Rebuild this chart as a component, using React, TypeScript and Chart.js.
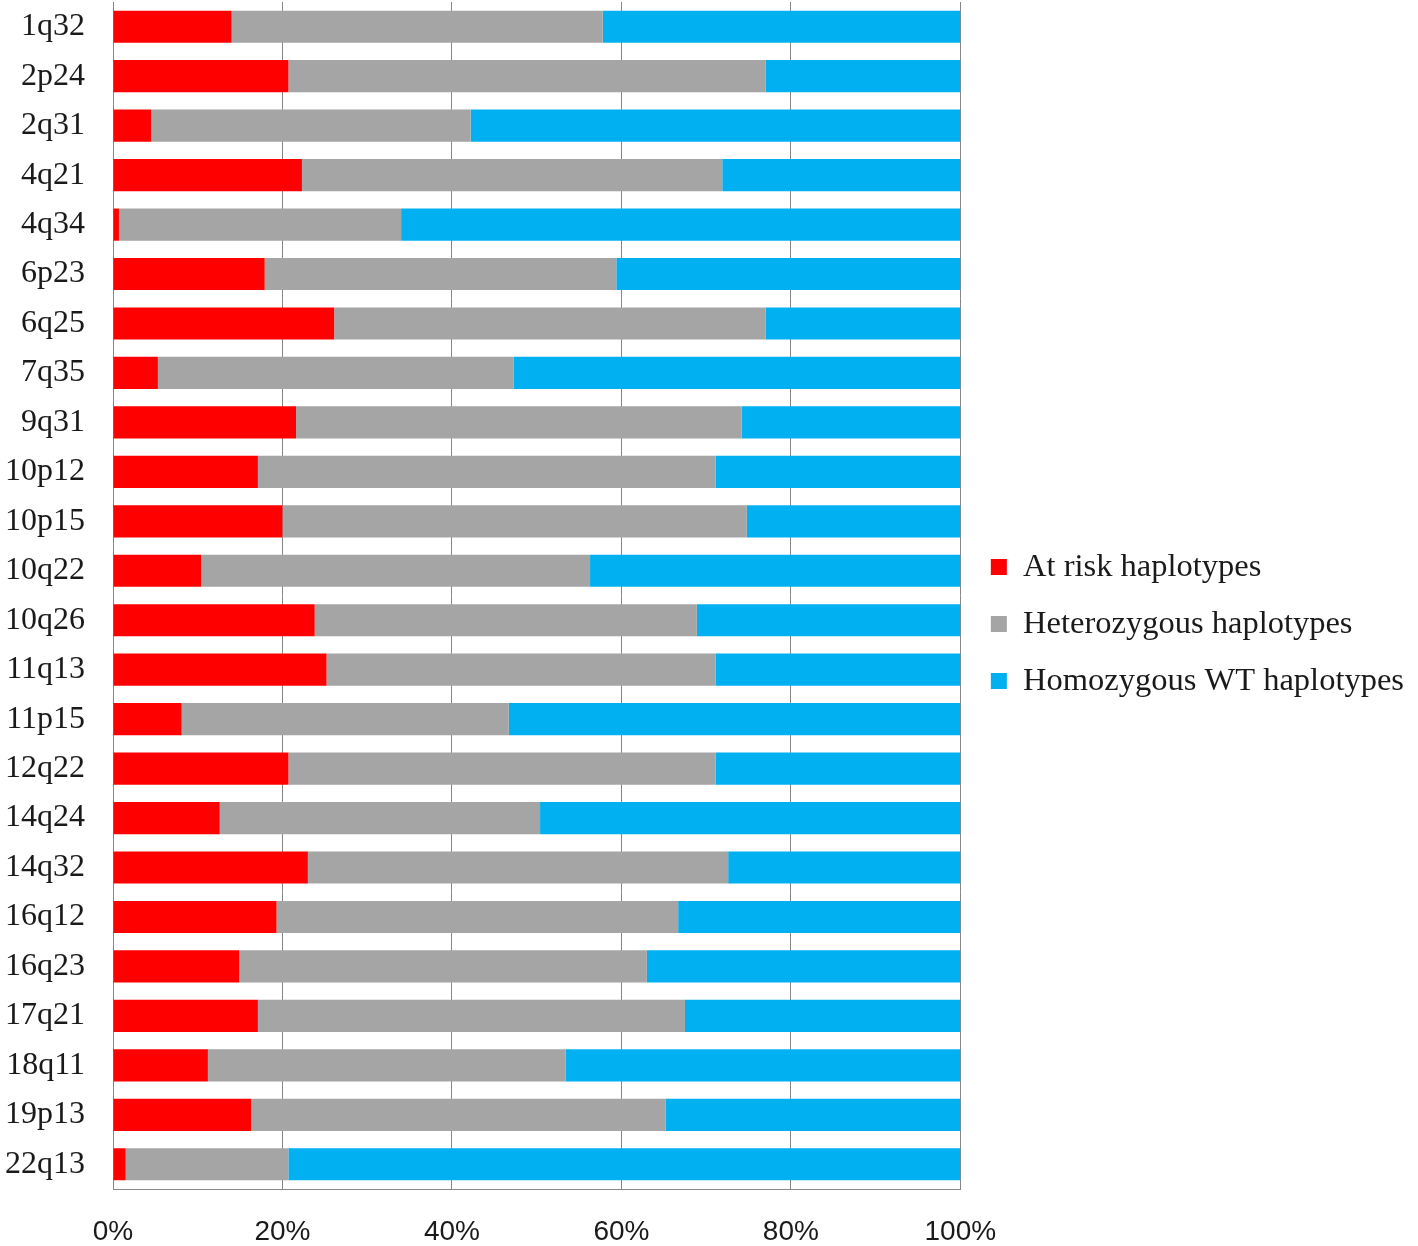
import React, { useEffect, useRef } from "react";
import { Chart, registerables } from "chart.js";

Chart.register(...registerables);

const categories = [
  "1q32", "2p24", "2q31", "4q21", "4q34", "6p23", "6q25", "7q35", "9q31", "10p12",
  "10p15", "10q22", "10q26", "11q13", "11p15", "12q22", "14q24", "14q32", "16q12",
  "16q23", "17q21", "18q11", "19p13", "22q13",
];

const atRisk = [
  14.0, 20.7, 4.5, 22.3, 0.7, 17.9, 26.1, 5.3, 21.6, 17.1,
  20.0, 10.4, 23.8, 25.2, 8.1, 20.7, 12.6, 23.0, 19.3,
  14.9, 17.1, 11.2, 16.3, 1.5,
];

const heterozygous = [
  43.8, 56.3, 37.7, 49.6, 33.3, 41.5, 50.9, 42.0, 52.6, 54.0,
  54.8, 45.9, 45.1, 45.9, 38.6, 50.4, 37.8, 49.6, 47.4,
  48.1, 50.4, 42.2, 48.9, 19.2,
];

const homozygousWT = [
  42.2, 23.0, 57.8, 28.1, 66.0, 40.6, 23.0, 52.7, 25.8, 28.9,
  25.2, 43.7, 31.1, 28.9, 53.3, 28.9, 49.6, 27.4, 33.3,
  37.0, 32.5, 46.6, 34.8, 79.3,
];

const seriesLabels = ["At risk haplotypes", "Heterozygous haplotypes", "Homozygous WT haplotypes"];
const xTicks = [0, 20, 40, 60, 80, 100];

const SERIF = '"Liberation Serif", "Times New Roman", serif';
const SANS = '"Liberation Sans", Arial, sans-serif';
const GRID = "#878787";
const TEXT = "#1a1a1a";

const legendShift = {
  id: "legendShift",
  afterLayout(chart: any) {
    const lg = chart.legend;
    if (lg) {
      lg.left += 6;
      lg.right += 6;
    }
  },
};

export default function App() {
  const ref = useRef<HTMLCanvasElement | null>(null);

  useEffect(() => {
    document.body.style.margin = "0";
    const canvas = ref.current;
    if (!canvas) return;
    const chart = new Chart(canvas, {
      type: "bar",
      data: {
        labels: categories,
        datasets: [
          { label: seriesLabels[0], data: atRisk, backgroundColor: "#FF0000" },
          { label: seriesLabels[1], data: heterozygous, backgroundColor: "#A5A5A5" },
          { label: seriesLabels[2], data: homozygousWT, backgroundColor: "#00B0F0" },
        ],
      },
      plugins: [legendShift],
      options: {
        indexAxis: "y",
        responsive: false,
        animation: false,
        devicePixelRatio: 1,
        datasets: { bar: { barPercentage: 0.65, categoryPercentage: 1 } },
        layout: { padding: { top: 2, right: 10, bottom: 0, left: 0 } },
        plugins: {
          tooltip: { enabled: false },
          legend: {
            position: "right",
            maxWidth: 600,
            labels: {
              color: TEXT,
              font: { family: SERIF, size: 32.5 },
              boxWidth: 16,
              boxHeight: 16,
              padding: 24.5,
            },
          },
        },
        scales: {
          x: {
            stacked: true,
            min: 0,
            max: 100,
            afterBuildTicks: (scale: any) => {
              scale.ticks = xTicks.map((v) => ({ value: v }));
            },
            afterFit: (scale: any) => {
              scale.paddingLeft = 0;
              scale.paddingRight = 0;
              scale.height = 57;
            },
            grid: { color: GRID, lineWidth: 1, drawTicks: false },
            border: { display: true, color: GRID, width: 1 },
            ticks: {
              color: TEXT,
              padding: 29,
              maxRotation: 0,
              font: { family: SANS, size: 28, lineHeight: 1 },
              callback: (v: any) => v + "%",
            },
          },
          y: {
            stacked: true,
            afterFit: (scale: any) => {
              scale.width = 113;
              scale.paddingTop = 0;
              scale.paddingBottom = 0;
            },
            grid: { display: false, drawTicks: false },
            border: { display: true, color: GRID, width: 1 },
            ticks: {
              color: TEXT,
              padding: 28,
              font: { family: SERIF, size: 32 },
            },
          },
        },
      },
    });
    return () => chart.destroy();
  }, []);

  return (
    <div style={{ width: 1418, height: 1246 }}>
      <canvas ref={ref} width={1418} height={1246} style={{ display: "block" }} />
    </div>
  );
}
